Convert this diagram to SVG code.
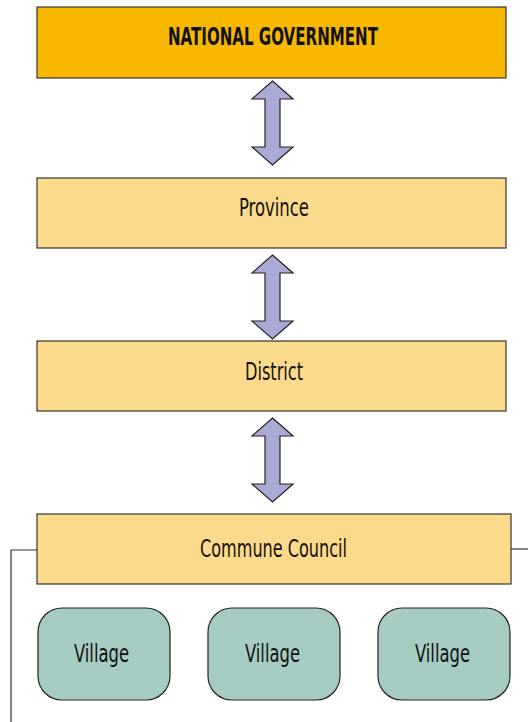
<svg xmlns="http://www.w3.org/2000/svg" width="528" height="722" viewBox="0 0 528 722">
  <defs>
    <style>
      .box { fill: #FCDA8B; stroke: #333; stroke-width: 1.2; }
      .top { fill: #F8B800; stroke: #333; stroke-width: 1.2; }
      .vil { fill: #A6CBC3; stroke: #222; stroke-width: 1.2; }
      .arr { fill: #ABA9D5; stroke: #222; stroke-width: 1.2; stroke-linejoin: miter; }
      .lbl { font-family: "Liberation Sans Narrow", "DejaVu Sans Condensed", "Liberation Sans", sans-serif; font-size: 25px; fill: #111; text-anchor: middle; }
      .bold { font-weight: bold; }
      .line { fill: none; stroke: #333; stroke-width: 1.2; }
    </style>
    <path id="dbl" class="arr" d="M0,0 L20.5,18 L7.5,18 L7.5,66 L20.5,66 L0,84 L-20.5,66 L-7.5,66 L-7.5,18 L-20.5,18 Z"/>
  </defs>

  <g id="connectors">
    <use href="#dbl" x="272.5" y="81"/>
    <use href="#dbl" x="272.5" y="255"/>
    <use href="#dbl" x="272.5" y="418"/>
    <polyline class="line" points="37,550 11,550 11,722"/>
    <line class="line" x1="506" y1="549" x2="528" y2="549"/>
  </g>

  <g id="national">
    <rect class="top" x="37" y="7" width="469" height="71"/>
    <text class="lbl bold" x="273" y="45" textLength="210" lengthAdjust="spacingAndGlyphs">NATIONAL GOVERNMENT</text>
  </g>

  <g id="province">
    <rect class="box" x="37" y="178" width="469" height="70"/>
    <text class="lbl" x="274" y="216" textLength="70" lengthAdjust="spacingAndGlyphs">Province</text>
  </g>

  <g id="district">
    <rect class="box" x="37" y="341" width="469" height="70"/>
    <text class="lbl" x="274" y="380" textLength="58" lengthAdjust="spacingAndGlyphs">District</text>
  </g>

  <g id="commune">
    <rect class="box" x="37" y="514" width="474" height="70"/>
    <text class="lbl" x="273.5" y="557" textLength="147" lengthAdjust="spacingAndGlyphs">Commune Council</text>
  </g>

  <g id="village1">
    <rect class="vil" x="38" y="608" width="132" height="92" rx="24"/>
    <text class="lbl" x="101.5" y="662" textLength="55" lengthAdjust="spacingAndGlyphs">Village</text>
  </g>

  <g id="village2">
    <rect class="vil" x="208" y="608" width="132" height="92" rx="24"/>
    <text class="lbl" x="272.5" y="662" textLength="55" lengthAdjust="spacingAndGlyphs">Village</text>
  </g>

  <g id="village3">
    <rect class="vil" x="378" y="608" width="132" height="92" rx="24"/>
    <text class="lbl" x="442.5" y="662" textLength="55" lengthAdjust="spacingAndGlyphs">Village</text>
  </g>
</svg>
